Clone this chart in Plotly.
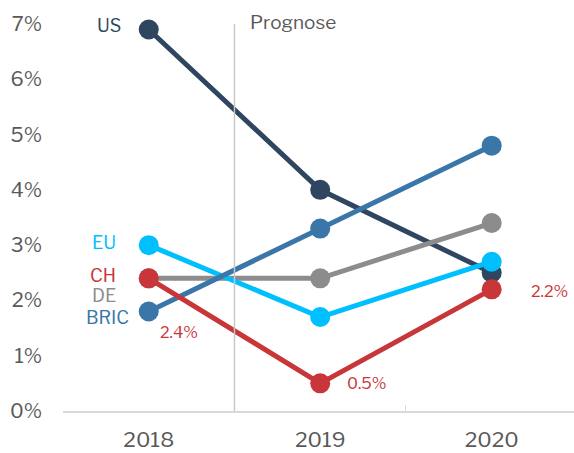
import plotly.graph_objects as go

years = ["2018", "2019", "2020"]
series_names = ["US", "DE", "EU", "BRIC", "CH"]
us = [0.069, 0.040, 0.025]
de = [0.024, 0.024, 0.034]
eu = [0.030, 0.017, 0.027]
bric = [0.018, 0.033, 0.048]
ch = [0.024, 0.005, 0.022]
colors = {"US": "#2E4660", "DE": "#8C8C8C", "EU": "#00BFFF", "BRIC": "#3A76A8", "CH": "#C8363A"}
values = {"US": us, "DE": de, "EU": eu, "BRIC": bric, "CH": ch}
y_ticks = [0, 0.01, 0.02, 0.03, 0.04, 0.05, 0.06, 0.07]
forecast_label = "Prognose"

FONT = "Libre Franklin, Roboto, Arial, sans-serif"
fig = go.Figure()
for name in series_names:
    fig.add_trace(go.Scatter(
        x=years, y=values[name], mode="lines+markers", name=name,
        line=dict(color=colors[name], width=5),
        marker=dict(color=colors[name], size=20),
        cliponaxis=False, showlegend=False,
    ))

# series name labels (left of first point); x given as category index
label_offsets = {"US": (-26, 4), "EU": (-31, 3), "CH": (-31, 3), "DE": (-31, -17), "BRIC": (-18, -6)}
for name in series_names:
    dx, dy = label_offsets[name]
    fig.add_annotation(x=0, y=values[name][0], text=name, showarrow=False,
                       xanchor="right", yanchor="middle", xshift=dx, yshift=dy,
                       font=dict(family=FONT, size=18, color=colors[name]))

# CH value labels
ch_shifts = [(30, -54), (46, 0), (58, -2)]
for i, (dx, dy) in enumerate(ch_shifts):
    fig.add_annotation(x=i, y=ch[i], text=f"{ch[i]*100:.1f}%", showarrow=False,
                       xanchor="center", yanchor="middle", xshift=dx, yshift=dy,
                       font=dict(family=FONT, size=16, color=colors["CH"]))

# forecast divider
fig.add_shape(type="line", xref="x", yref="y", x0=0.5, x1=0.5, y0=0, y1=0.0713,
              line=dict(color="#C8C8C8", width=1.5), layer="above")
fig.add_annotation(x=0.5, y=0.07, text=forecast_label, showarrow=False, xanchor="left",
                   yanchor="middle", xshift=14, yshift=2,
                   font=dict(family=FONT, size=19, color="#595959"))

fig.update_layout(
    width=574, height=453,
    margin=dict(l=63, r=0, t=24, b=42),
    plot_bgcolor="white", paper_bgcolor="white",
    font=dict(family=FONT, color="#595959"),
    xaxis=dict(type="category", range=[-0.5, 2.48], showgrid=False, showline=True,
               linecolor="#D9D9D9", linewidth=1.5, tickson="boundaries", ticks="inside",
               ticklen=6, tickcolor="#D9D9D9", tickfont=dict(size=21, color="#595959"),
               ticklabelstandoff=9),
    yaxis=dict(range=[0, 0.07], tickvals=y_ticks, tickformat=".0%", showgrid=False,
               zeroline=False, showline=False, tickfont=dict(size=20, color="#595959"),
               ticklabelstandoff=20),
)
fig.write_html("out.html", config={"displayModeBar": False},
               post_script="document.body.style.margin='0px';")
